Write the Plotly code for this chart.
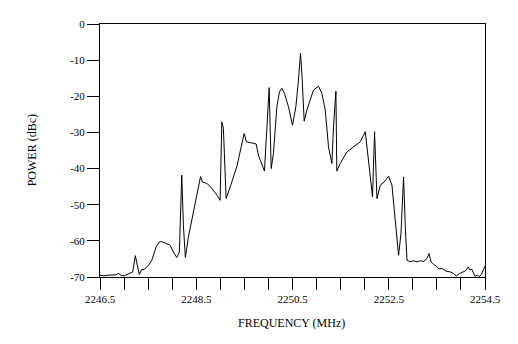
import plotly.graph_objects as go

# Spectrum trace: frequency (MHz) and relative power (dBc)
freq_mhz = [
    2246.500, 2246.583, 2246.666, 2246.750, 2246.833, 2246.880, 2246.937, 2246.999,
    2247.062, 2247.124, 2247.180, 2247.234, 2247.284, 2247.317, 2247.367, 2247.415,
    2247.471, 2247.519, 2247.575, 2247.623, 2247.665, 2247.733, 2247.779, 2247.817,
    2247.873, 2247.914, 2247.956, 2248.025, 2248.095, 2248.149, 2248.199, 2248.233,
    2248.274, 2248.337, 2248.407, 2248.511, 2248.590, 2248.628, 2248.719, 2248.788,
    2248.856, 2248.933, 2248.996, 2249.031, 2249.064, 2249.121, 2249.204, 2249.343,
    2249.495, 2249.543, 2249.655, 2249.745, 2249.792, 2249.863, 2249.917, 2250.015,
    2250.057, 2250.104, 2250.175, 2250.229, 2250.279, 2250.333, 2250.416, 2250.500,
    2250.570, 2250.624, 2250.666, 2250.695, 2250.743, 2250.799, 2250.882, 2250.936,
    2251.040, 2251.111, 2251.180, 2251.248, 2251.319, 2251.352, 2251.402, 2251.421,
    2251.492, 2251.631, 2251.768, 2251.908, 2252.012, 2252.059, 2252.116, 2252.163,
    2252.205, 2252.255, 2252.324, 2252.407, 2252.496, 2252.567, 2252.615, 2252.671,
    2252.704, 2252.754, 2252.808, 2252.844, 2252.879, 2252.948, 2253.010, 2253.087,
    2253.156, 2253.224, 2253.295, 2253.336, 2253.378, 2253.432, 2253.488, 2253.536,
    2253.613, 2253.696, 2253.779, 2253.842, 2253.904, 2253.967, 2254.029, 2254.092,
    2254.154, 2254.185, 2254.223, 2254.258, 2254.293, 2254.341, 2254.383, 2254.424,
    2254.500,
]
power_dbc = [
    -69.5, -69.7, -69.5, -69.4, -69.4, -69.0, -69.5, -69.7,
    -69.3, -69.1, -68.6, -64.1, -67.7, -69.3, -67.9, -68.0,
    -67.2, -66.6, -65.4, -63.4, -61.7, -60.3, -60.2, -60.4,
    -60.7, -60.8, -61.2, -63.1, -64.6, -63.1, -41.8, -55.7,
    -64.6, -58.9, -54.3, -47.8, -42.2, -43.7, -44.1, -44.9,
    -46.0, -47.4, -48.8, -27.1, -28.9, -48.3, -45.1, -39.5,
    -30.3, -32.6, -32.9, -33.2, -36.3, -38.6, -40.7, -17.6,
    -40.0, -35.8, -22.9, -18.8, -17.8, -19.2, -22.9, -28.0,
    -22.9, -15.5, -8.1, -13.7, -26.9, -23.8, -20.1, -18.3,
    -17.2, -19.2, -23.8, -34.0, -38.6, -28.4, -18.6, -40.7,
    -38.6, -35.4, -34.0, -32.6, -29.8, -34.9, -41.4, -47.8,
    -29.8, -48.3, -44.6, -43.7, -42.1, -44.6, -51.5, -60.7,
    -64.0, -58.0, -42.3, -56.1, -65.4, -65.8, -65.5, -65.8,
    -65.5, -65.7, -64.9, -63.5, -65.8, -66.5, -67.0, -67.7,
    -67.7, -68.4, -68.6, -69.0, -69.7, -69.1, -68.7, -68.3,
    -67.2, -68.1, -67.8, -69.0, -69.8, -69.5, -69.9, -69.3,
    -67.0,
]

# Axis ticks: every 0.5 MHz, labelled every 2 MHz
x_tick_vals = [2246.5 + 0.5 * i for i in range(17)]
x_tick_text = ["2246.5", "", "", "", "2248.5", "", "", "",
               "2250.5", "", "", "", "2252.5", "", "", "", "2254.5"]
y_tick_vals = [0, -10, -20, -30, -40, -50, -60, -70]
y_tick_text = ["0", "-10", "-20", "-30", "-40", "-50", "-60", "-70"]

font_family = "Liberation Serif, Times New Roman, serif"

fig = go.Figure()
fig.add_trace(go.Scatter(
    x=freq_mhz, y=power_dbc, mode="lines",
    line=dict(color="black", width=1),
    showlegend=False, hoverinfo="skip",
))

fig.update_layout(
    width=518, height=344,
    margin=dict(l=100, r=33, t=24, b=67, pad=0),
    paper_bgcolor="white", plot_bgcolor="white",
    font=dict(family=font_family, size=11, color="black"),
    xaxis=dict(
        range=[2246.5, 2254.5], tickmode="array",
        tickvals=x_tick_vals, ticktext=x_tick_text,
        ticks="outside", ticklen=12, tickwidth=1, tickcolor="black",
        showline=True, linecolor="black", linewidth=1, mirror=True,
        showgrid=False, zeroline=False,
        tickfont=dict(family=font_family, size=11),
    ),
    yaxis=dict(
        range=[-70, 0], tickmode="array",
        tickvals=y_tick_vals, ticktext=y_tick_text,
        ticks="outside", ticklen=12, tickwidth=1, tickcolor="black",
        showline=True, linecolor="black", linewidth=1, mirror=True,
        showgrid=False, zeroline=False,
        tickfont=dict(family=font_family, size=11),
    ),
    annotations=[
        dict(text="FREQUENCY (MHz)", xref="paper", yref="paper",
             x=0.497, y=-0.183, xanchor="center", yanchor="middle",
             showarrow=False, font=dict(family=font_family, size=12)),
        dict(text="POWER (dBc)", xref="paper", yref="paper",
             x=-0.177, y=0.5, xanchor="center", yanchor="middle",
             textangle=-90, showarrow=False,
             font=dict(family=font_family, size=12)),
    ],
)

fig.write_html("out.html")
